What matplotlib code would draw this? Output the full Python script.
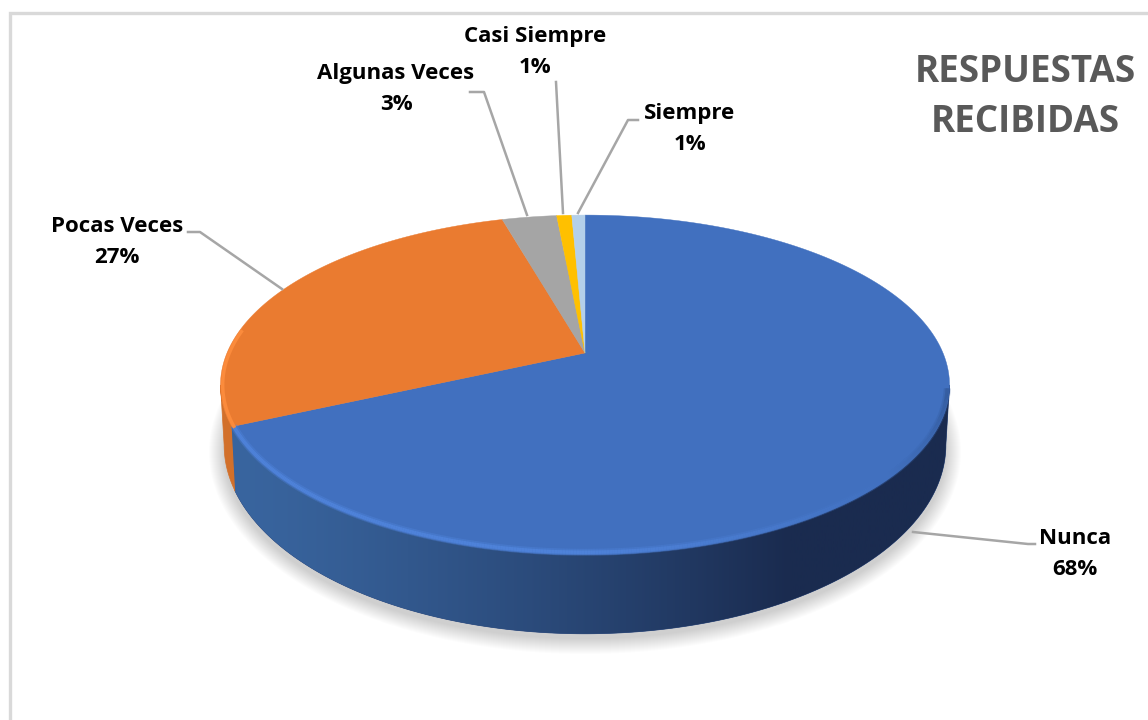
import numpy as np
import matplotlib
matplotlib.use("Agg")
import matplotlib.pyplot as plt
from matplotlib.collections import LineCollection
from matplotlib.colors import to_rgb

# data, clockwise from the top
categories = ['Nunca', 'Pocas Veces', 'Algunas Veces', 'Casi Siempre', 'Siempre']
values = [68.2, 27.4, 2.9, 0.8, 0.7]
colors = ['#4170bf', '#ea7b30', '#a5a5a5', '#ffc000', '#b4d0ea']

plt.rcParams['font.family'] = ['Open Sans', 'DejaVu Sans']

fig = plt.figure(figsize=(11.48, 7.2), dpi=100)
ax = fig.add_axes([0, 0, 1, 1])
ax.set_xlim(0, 1148)
ax.set_ylim(720, 0)
ax.axis('off')

# perspective view of the disc
CX, K, C = 585, 358, 0.188
A, B = -97.5, 353
TH_RIGHT, TH_LEFT = 1.76, 2 * np.pi - 1.76


def top_rim(theta):
    u, v = np.sin(theta), np.cos(theta)
    return CX + K * u / (1 + C * v), (A * v + B) / (1 + C * v)


def bottom_rim(theta):
    x, y = top_rim(theta)
    return CX + (x - CX) * 0.99, 445 + (y - 385) * 189 / 170


def mix(c1, c2, f):
    c1, c2 = np.array(to_rgb(c1)), np.array(to_rgb(c2))
    return tuple(c1 + (c2 - c1) * f)


# frame
ax.plot([10, 10, 1148], [720, 13, 13], color='#d9d9d9', lw=2.4, solid_joinstyle='miter')

# soft shadow under the disc
t = np.linspace(0, 2 * np.pi, 300)
for grow in np.arange(16, 0, -1):
    ax.fill(CX + (360 + grow) * np.sin(t), 452 + (186 + grow) * np.cos(t),
            color='black', alpha=0.01, lw=0)

edges = 2 * np.pi * np.cumsum([0] + values) / sum(values)


def side_xy(t0, t1):
    tt = np.linspace(t0, t1, 300)
    x0, y0 = top_rim(tt)
    x1, y1 = bottom_rim(tt[::-1])
    return np.r_[x0, x1], np.r_[y0, y1]


# side wall: horizontal gradient clipped to the wall outline
sx, sy = side_xy(TH_RIGHT, edges[1])
patch = ax.fill(sx, sy, color='#29467c', lw=0.5)[0]
f = np.clip((np.linspace(220, 950, 512) - 230) / 560, 0, 1)
grad = np.array([[mix('#39659f', '#1a2b4f', v ** 1.3) for v in f]])
im = ax.imshow(grad, extent=(220, 950, 720, 0), aspect='auto', zorder=patch.get_zorder() + 0.1)
im.set_clip_path(patch)
ax.set_xlim(0, 1148)
ax.set_ylim(720, 0)

sx, sy = side_xy(edges[1], TH_LEFT)
ax.fill(sx, sy, color='#d2702b', lw=0.5, zorder=1.05)

# top face
for c, t0, t1 in zip(colors, edges[:-1], edges[1:]):
    tt = np.linspace(t0, t1, 300)
    x, y = top_rim(tt)
    ax.fill(np.r_[CX, x], np.r_[B, y], color=c, lw=0.3, zorder=2)

# bevel along the front rim
th = np.linspace(TH_RIGHT + 0.02, edges[1], 400)
x, y = top_rim(th)
x = CX + (x - CX) * 0.994
y = 385 + (y - 385) * 0.985
pts = np.column_stack([x, y])
segs = np.stack([pts[:-1], pts[1:]], axis=1)
bevel = []
for a in (th[:-1] + th[1:]) / 2:
    if a > np.pi:
        bevel.append('#5287e0')
    elif a > 2.3:
        bevel.append(mix('#4170bf', '#5287e0', (a - 2.3) / (np.pi - 2.3)))
    else:
        bevel.append(mix('#2a4a80', '#4170bf', max(a - 1.5, 0) / 0.8))
ax.add_collection(LineCollection(segs, colors=bevel, linewidths=5, alpha=0.35, zorder=3))
ax.add_collection(LineCollection(segs, colors=bevel, linewidths=2.5, alpha=0.7, zorder=3))
th = np.linspace(edges[1], 4.85, 80)
x, y = top_rim(th)
ax.plot(CX + (x - CX) * 0.994, 385 + (y - 385) * 0.99, color='#fb8b3c', lw=2.5, zorder=3)

# leader lines
leaders_x = [[913, 1028, 1035], [282, 200, 188], [527, 484, 470], [563, 556], [578, 628, 638]]
leaders_y = [[532, 544, 544], [289, 232, 232], [215, 92, 92], [213, 82], [213, 120, 120]]
for lx, ly in zip(leaders_x, leaders_y):
    ax.plot(lx, ly, color='#a6a6a6', lw=1.8, zorder=4)

# labels
label_x = [1075, 117, 396, 535, 690]
label_y = [554, 242, 89, 52, 129]
for name, val, lx, ly in zip(categories, values, label_x, label_y):
    ax.text(lx, ly, f'{name}\n{val:.0f}%', ha='center', va='center', fontsize=16,
            fontweight='bold', color='black', linespacing=1.67)

ax.text(1025, 97, 'RESPUESTAS\nRECIBIDAS', ha='center', va='center', fontsize=26.5,
        fontweight='bold', color='#595959', linespacing=1.4)

plt.savefig('out.png', dpi=100)
